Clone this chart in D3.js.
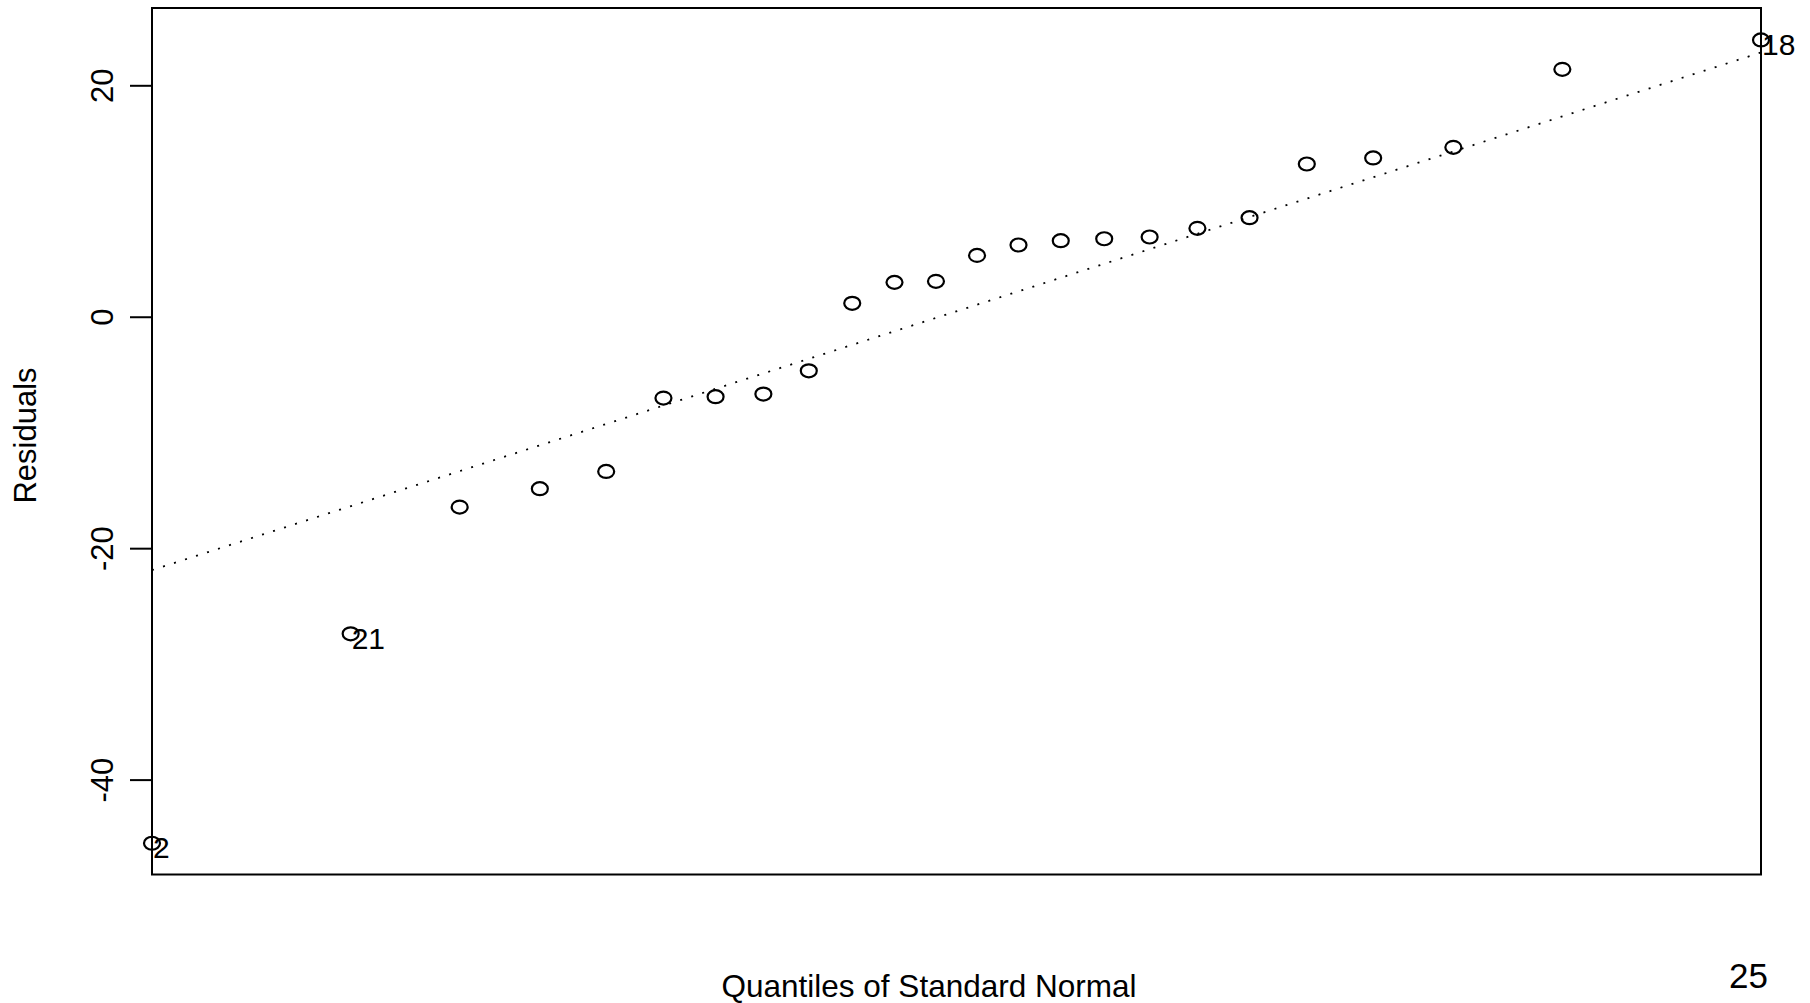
<!DOCTYPE html>
<html>
<head>
<meta charset="utf-8">
<script src="https://cdn.jsdelivr.net/npm/d3@7"></script>
<style>
  html, body { margin: 0; padding: 0; background: #fff; }
  svg { display: block; }
  text { font-family: "Liberation Sans", Arial, Helvetica, sans-serif; fill: #000; }
</style>
</head>
<body>
<svg id="chart" width="1810" height="1003"></svg>
<script>
// Theoretical normal quantiles for the 24 ordered residuals
const quantiles = [-2.037, -1.534, -1.258, -1.055, -0.887, -0.742, -0.610, -0.489,
                   -0.374, -0.264, -0.157, -0.052, 0.052, 0.157, 0.264, 0.374,
                   0.489, 0.610, 0.742, 0.887, 1.055, 1.258, 1.534, 2.037];
// Ordered residuals
const residuals = [-45.5, -27.4, -16.45, -14.86, -13.37, -7.03, -6.91, -6.68,
                   -4.67, 1.16, 2.97, 3.06, 5.30, 6.20, 6.57, 6.74,
                   6.89, 7.64, 8.56, 13.20, 13.72, 14.64, 21.38, 23.92];
// Observations flagged with their case numbers
const labelledIndex = [0, 1, 23];
const labelText = ["2", "21", "18"];
// Reference line through the quartiles
const lineIntercept = 0.47;
const lineSlope = 10.98;
// Axis
const yTicks = [-40, -20, 0, 20];
const xTitle = "Quantiles of Standard Normal";
const yTitle = "Residuals";
const cornerNote = "25";

const svg = d3.select("#chart");
const plot = { left: 152, right: 1761, top: 8, bottom: 874.5 };

const x = d3.scaleLinear()
  .domain([d3.min(quantiles), d3.max(quantiles)])
  .range([plot.left, plot.right]);
const y = d3.scaleLinear()
  .domain([-48.2, 26.68])
  .range([plot.bottom, plot.top]);

const points = quantiles.map((q, i) => ({ q, r: residuals[i] }));

// Dotted reference line across the full x range
const [q0, q1] = x.domain();
svg.append("line")
  .attr("x1", x(q0)).attr("y1", y(lineIntercept + lineSlope * q0))
  .attr("x2", x(q1)).attr("y2", y(lineIntercept + lineSlope * q1))
  .attr("stroke", "#000")
  .attr("stroke-width", 1.8)
  .attr("stroke-dasharray", "2 9.56");

// Points drawn as open circles
svg.append("g")
  .selectAll("ellipse")
  .data(points)
  .join("ellipse")
  .attr("cx", d => x(d.q))
  .attr("cy", d => y(d.r))
  .attr("rx", 8)
  .attr("ry", 6.5)
  .attr("fill", "none")
  .attr("stroke", "#000")
  .attr("stroke-width", 2.2);

// Case labels for the extreme points
svg.append("g")
  .selectAll("text")
  .data(labelledIndex)
  .join("text")
  .attr("x", i => x(quantiles[i]) + 1)
  .attr("y", i => y(residuals[i]) + 15)
  .attr("font-size", 30)
  .text((i, k) => labelText[k]);

// Y axis with rotated labels (plain hyphen for negatives)
const yAxis = d3.axisLeft(y)
  .tickValues(yTicks)
  .tickSize(22)
  .tickFormat(d => String(d));
const gy = svg.append("g")
  .attr("transform", `translate(${plot.left},0)`)
  .call(yAxis);
gy.select(".domain").remove();
gy.selectAll(".tick line").attr("stroke", "#000").attr("stroke-width", 2);
gy.selectAll(".tick text")
  .attr("x", null)
  .attr("dy", null)
  .attr("text-anchor", "middle")
  .attr("font-size", 31)
  .attr("font-family", null)
  .attr("fill", "#000")
  .attr("transform", `translate(${113 - plot.left},0) rotate(-90)`);

// Plot frame
svg.append("rect")
  .attr("x", plot.left)
  .attr("y", plot.top)
  .attr("width", plot.right - plot.left)
  .attr("height", plot.bottom - plot.top)
  .attr("fill", "none")
  .attr("stroke", "#000")
  .attr("stroke-width", 2);

// Axis titles
svg.append("text")
  .attr("x", 929)
  .attr("y", 997)
  .attr("text-anchor", "middle")
  .attr("font-size", 31.5)
  .text(xTitle);

svg.append("text")
  .attr("transform", "translate(36,435.5) rotate(-90)")
  .attr("text-anchor", "middle")
  .attr("font-size", 31)
  .text(yTitle);

svg.append("text")
  .attr("x", 1748.5)
  .attr("y", 988)
  .attr("text-anchor", "middle")
  .attr("font-size", 35)
  .text(cornerNote);
</script>
</body>
</html>
